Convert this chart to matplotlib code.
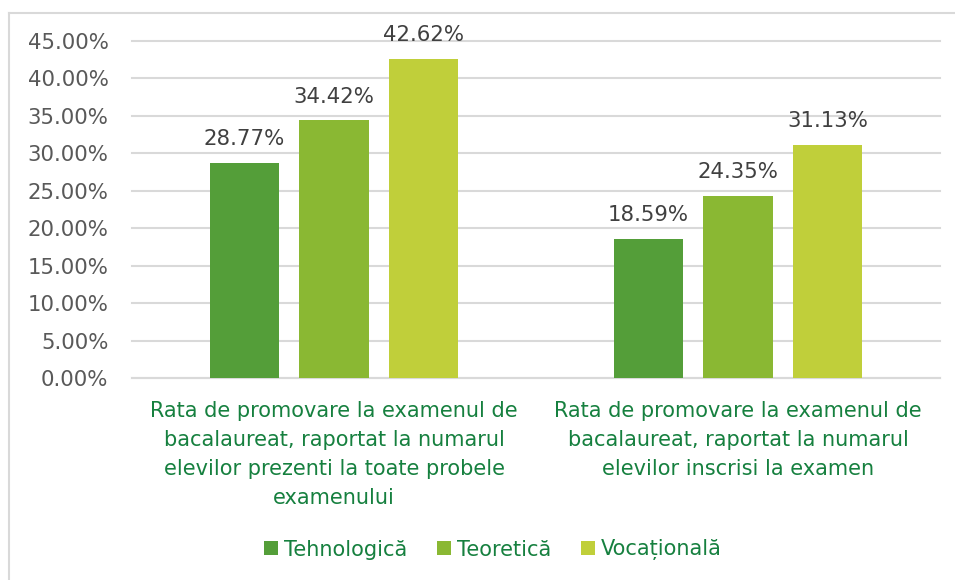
import matplotlib
matplotlib.use("Agg")
import matplotlib.pyplot as plt
from matplotlib.lines import Line2D
import numpy as np

categories = [
    "Rata de promovare la examenul de\nbacalaureat, raportat la numarul\nelevilor prezenti la toate probele\nexamenului",
    "Rata de promovare la examenul de\nbacalaureat, raportat la numarul\nelevilor inscrisi la examen",
]
series_names = ["Tehnologică", "Teoretică", "Vocațională"]
tehnologica = [28.77, 18.59]
teoretica = [34.42, 24.35]
vocationala = [42.62, 31.13]
y_ticks = [0, 5, 10, 15, 20, 25, 30, 35, 40, 45]

colors = ["#549E39", "#8AB833", "#C0CF3A"]
text_green = "#16803F"
W, H = 955, 580

plt.rcParams["font.family"] = "DejaVu Sans"
fig = plt.figure(figsize=(W / 100, H / 100), dpi=100)
ax = fig.add_axes([132 / W, 1 - 378 / H, (940 - 132) / W, (378 - 41) / H])

x = np.arange(len(categories))
width = 0.173
offsets = [-0.2215, 0.0, 0.2215]
for vals, name, col, off in zip([tehnologica, teoretica, vocationala], series_names, colors, offsets):
    bars = ax.bar(x + off, vals, width, color=col, label=name, zorder=3)
    for b, v in zip(bars, vals):
        ax.annotate(f"{v:.2f}%", (b.get_x() + b.get_width() / 2, v),
                    xytext=(0, 12.6), textcoords="offset points",
                    ha="center", va="baseline", fontsize=15.3, color="#404040")

ax.set_xlim(-0.5, 1.5)
ax.set_ylim(0, 45)
ax.set_yticks(y_ticks)
ax.set_yticklabels([f"{t:.2f}%" for t in y_ticks])
ax.tick_params(axis="y", length=0, pad=17, labelsize=15.3, labelcolor="#595959")
ax.set_xticks(x)
ax.set_xticklabels(categories, fontsize=15, color=text_green, linespacing=1.56)
ax.tick_params(axis="x", length=0, pad=16.5)
ax.grid(axis="y", color="#D9D9D9", linewidth=1.5, zorder=0)
for gl in ax.get_ygridlines():
    gl.set_clip_on(False)
for s in ["top", "right", "left"]:
    ax.spines[s].set_visible(False)
ax.spines["bottom"].set_color("#D9D9D9")
ax.spines["bottom"].set_linewidth(1.5)

leg = fig.legend(loc="center", bbox_to_anchor=(493 / W, 1 - 550 / H), ncol=3, frameon=False,
                 fontsize=15, handlelength=0.67, handleheight=0.67, handletextpad=0.29,
                 columnspacing=1.44)
for t in leg.get_texts():
    t.set_color(text_green)

# outer chart border (top and left only visible)
fig.add_artist(Line2D([8.5 / W, 1], [1 - 12.5 / H, 1 - 12.5 / H], color="#D9D9D9", lw=1.5, transform=fig.transFigure))
fig.add_artist(Line2D([8.5 / W, 8.5 / W], [0, 1 - 12.5 / H], color="#D9D9D9", lw=1.5, transform=fig.transFigure))

fig.savefig("out.png", dpi=100)
